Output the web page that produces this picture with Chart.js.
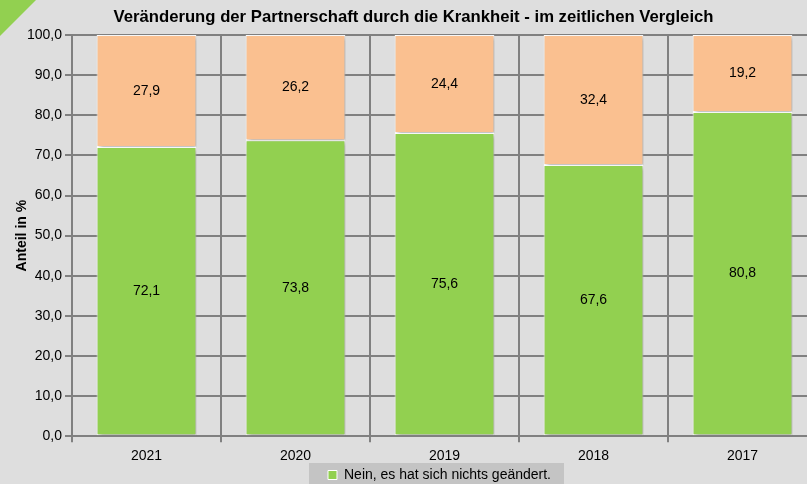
<!DOCTYPE html>
<html>
<head>
<meta charset="utf-8">
<script src="https://cdn.jsdelivr.net/npm/chart.js@4"></script>
<style>
  html, body { margin: 0; padding: 0; background: #dedede; overflow: hidden; }
  #wrap { position: relative; width: 807px; height: 484px; overflow: hidden; }
  #corner { position: absolute; left: 0; top: 0; width: 36px; height: 36px; background: #92d050;
            clip-path: polygon(0 0, 100% 0, 0 100%); z-index: 2; }
  canvas { position: absolute; left: 0; top: 0; }
</style>
</head>
<body>
<div id="wrap">
  <div id="corner"></div>
  <canvas id="partnerChart" width="836" height="499"></canvas>
</div>
<script>
const years = ['2021', '2020', '2019', '2018', '2017'];
const unchanged = [72.1, 73.8, 75.6, 67.6, 80.8];
const changed = [27.9, 26.2, 24.4, 32.4, 19.2];

const FONT = '"Liberation Sans", Arial, sans-serif';
const fmt = v => v.toFixed(1).replace('.', ',');

// soft shadow behind the bars
const barShadow = {
  id: 'barShadow',
  beforeDatasetsDraw(chart) {
    const ctx = chart.ctx;
    ctx.save();
    ctx.shadowColor = 'rgba(0,0,0,0.3)';
    ctx.shadowBlur = 4;
    ctx.shadowOffsetX = 2;
    ctx.shadowOffsetY = 2;
  },
  afterDatasetsDraw(chart) {
    chart.ctx.restore();
  }
};

// value written in the middle of each segment
const valueLabels = {
  id: 'valueLabels',
  afterDatasetsDraw(chart) {
    const ctx = chart.ctx;
    ctx.save();
    ctx.font = '14px ' + FONT;
    ctx.fillStyle = '#000';
    ctx.textAlign = 'center';
    ctx.textBaseline = 'middle';
    chart.data.datasets.forEach((ds, i) => {
      chart.getDatasetMeta(i).data.forEach((bar, j) => {
        ctx.fillText(fmt(ds.data[j]), bar.x, (bar.y + bar.base) / 2);
      });
    });
    ctx.restore();
  }
};

// nudge the legend right and up, then paint its grey panel
const legendPanel = {
  id: 'legendPanel',
  afterLayout(chart) {
    const lg = chart.legend;
    if (!lg) return;
    lg.left += 26;
    lg.right += 26;
    lg.top -= 7;
    lg.bottom -= 7;
  },
  beforeDraw(chart) {
    const boxes = chart.legend && chart.legend.legendHitBoxes;
    if (!boxes || !boxes.length) return;
    const b = boxes[0];
    const ctx = chart.ctx;
    ctx.save();
    ctx.fillStyle = '#c4c4c4';
    ctx.fillRect(b.left - 19, b.top - 5, b.width + 32, b.height + 20);
    ctx.restore();
  }
};

const ctx = document.getElementById('partnerChart').getContext('2d');
const partnerChart = new Chart(ctx, {
  type: 'bar',
  data: {
    labels: years,
    datasets: [{
      label: 'Nein, es hat sich nichts geändert.',
      data: unchanged,
      backgroundColor: '#92d050',
      borderColor: '#ffffff',
      borderWidth: 1,
      borderSkipped: false
    }, {
      label: 'Ja, es hat sich etwas geändert.',
      data: changed,
      backgroundColor: '#fac090',
      borderColor: '#ffffff',
      borderWidth: 1,
      borderSkipped: false
    }]
  },
  options: {
    responsive: false,
    animation: false,
    categoryPercentage: 1,
    barPercentage: 0.67,
    layout: { padding: { left: 10, right: 19, top: 2, bottom: 0 } },
    plugins: {
      title: {
        display: true,
        text: 'Veränderung der Partnerschaft durch die Krankheit - im zeitlichen Vergleich',
        color: '#000',
        font: { family: FONT, size: 16.7, weight: 'bold' },
        padding: { top: 5, bottom: 8 }
      },
      legend: {
        position: 'bottom',
        labels: {
          filter: item => item.datasetIndex === 0,
          color: '#000',
          font: { family: FONT, size: 14 },
          boxWidth: 9,
          boxHeight: 9,
          padding: 4
        }
      },
      tooltip: { enabled: false }
    },
    scales: {
      x: {
        stacked: true,
        grid: { color: '#808080', lineWidth: 2, tickLength: 6, offset: true },
        border: { color: '#808080', width: 2 },
        ticks: { color: '#000', font: { family: FONT, size: 14 }, padding: 6 }
      },
      y: {
        stacked: true,
        min: 0,
        max: 100,
        afterFit: scale => { scale.width = 62; },
        ticks: {
          stepSize: 10,
          color: '#000',
          font: { family: FONT, size: 14 },
          padding: 3,
          callback: v => fmt(v)
        },
        grid: { color: '#808080', lineWidth: 2, tickLength: 7 },
        border: { color: '#808080', width: 2 },
        title: {
          display: true,
          text: 'Anteil in %',
          color: '#000',
          font: { family: FONT, size: 14, weight: 'bold' },
          padding: { top: 4, bottom: 0 }
        }
      }
    }
  },
  plugins: [legendPanel, barShadow, valueLabels]
});
</script>
</body>
</html>
